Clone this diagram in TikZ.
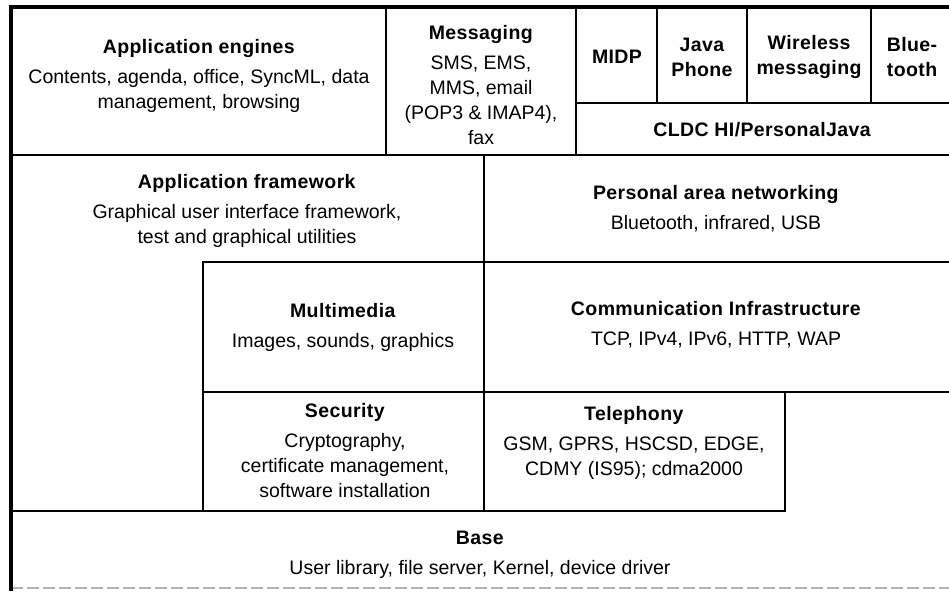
\documentclass[tikz,border=0pt]{standalone}
\usepackage{fontspec}
\setmainfont{Liberation Sans}[BoldFeatures={LetterSpace=2}]
\usetikzlibrary{positioning}

\begin{document}
\begin{tikzpicture}[x=1pt, y=-1pt, font=\fontsize{19.5}{25}\selectfont,
    frame/.style={line width=1.2pt},
    rim/.style={line width=3.5pt},
    layer/.style={inner sep=0pt, align=center},
    java/.style={layer, font=\fontsize{19.5}{25}\selectfont\bfseries}]
    \useasboundingbox (0,0) rectangle (949,591);
    \clip (0,0) rectangle (949,591);
    \def\R{960}
    \def\gap{\\[5pt]}
    % applications and Java
    \draw[frame] (11,7) rectangle (386,155);
    \draw[frame] (386,7) rectangle (576,155);
    \draw[frame] (576,7) rectangle (657,103);
    \draw[frame] (657,7) rectangle (747,103);
    \draw[frame] (747,7) rectangle (871,103);
    \draw[frame] (871,7) rectangle (\R,103);
    \draw[frame] (576,103) rectangle (\R,155);
    % middle layers
    \draw[frame] (11,155) -- (484,155) -- (484,262) -- (203,262) -- (203,511) -- (11,511) -- cycle;
    \draw[frame] (484,155) rectangle (\R,262);
    \draw[frame] (203,262) rectangle (484,392);
    \draw[frame] (484,262) rectangle (\R,392);
    \draw[frame] (203,392) rectangle (484,511);
    \draw[frame] (484,392) rectangle (785,511);
    % base
    \draw[frame] (11,511) -- (785,511) -- (785,392) -- (\R,392);
    \draw[gray!60, line width=1.2pt, dash pattern=on 12pt off 4pt] (11,588) -- (\R,588);
    \draw[rim] (11,591) -- (11,7) -- (\R,7);

    \node[layer] (engines) at (199,76) {\textbf{Application engines}\gap
        Contents, agenda, office, SyncML, data\\management, browsing};
    \node[layer] (messaging) at (481,85) {\textbf{Messaging}\gap
        SMS, EMS,\\MMS, email\\(POP3 \& IMAP4),\\fax};
    \node[java] (midp) at (617,57) {MIDP};
    \node[java] (javaphone) at (702,57) {Java\\Phone};
    \node[java] (wireless) at (809,57) {Wireless\\messaging};
    \node[java] (bluetooth) at (912,57) {Blue-\\tooth};
    \node[java] (cldc) at (762,130) {CLDC HI/PersonalJava};

    \node[layer] (framework) at (247,211) {\textbf{Application framework}\gap
        Graphical user interface framework,\\test and graphical utilities};
    \node[layer] (pan) at (716,209) {\textbf{Personal area networking}\gap
        Bluetooth, infrared, USB};
    \node[layer] (multimedia) at (343,327) {\textbf{Multimedia}\gap
        Images, sounds, graphics};
    \node[layer] (comms) at (716,325) {\textbf{Communication Infrastructure}\gap
        TCP, IPv4, IPv6, HTTP, WAP};
    \node[layer] (security) at (345,451) {\textbf{Security}\gap
        Cryptography,\\certificate management,\\software installation};
    \node[layer] (telephony) at (634,443) {\textbf{Telephony}\gap
        GSM, GPRS, HSCSD, EDGE,\\CDMY (IS95); cdma2000};
    \node[layer] (base) at (480,555) {\textbf{Base}\gap
        User library, file server, Kernel, device driver};
\end{tikzpicture}
\end{document}
